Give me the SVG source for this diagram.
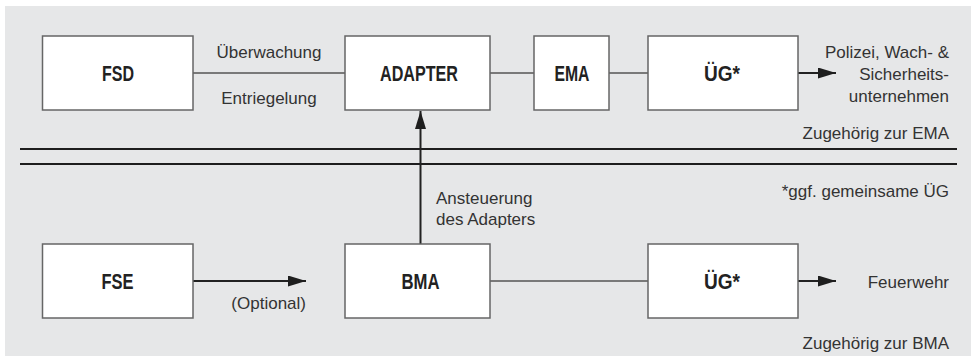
<svg xmlns="http://www.w3.org/2000/svg" width="978" height="356" viewBox="0 0 978 356">
  <style>
    .box { fill: #ffffff; stroke: #666666; stroke-width: 1.5; }
    .name { font-family: "Liberation Sans", Arial, sans-serif; font-weight: bold; font-size: 22px; fill: #222222; text-anchor: middle; }
    .lbl { font-family: "Liberation Sans", Arial, sans-serif; font-size: 17px; fill: #333333; }
    .end { text-anchor: end; }
    .mid { text-anchor: middle; }
    .thin { stroke: #555555; stroke-width: 1.5; fill: none; }
    .bold { stroke: #222222; stroke-width: 2; fill: none; }
    .sep { stroke: #1e1e1e; stroke-width: 2; fill: none; }
  </style>
  <defs>
    <marker id="head" viewBox="0 0 18 11" refX="18" refY="5.5" markerWidth="18" markerHeight="11" markerUnits="userSpaceOnUse" orient="auto">
      <path d="M0,0 L18,5.5 L0,11 Z" fill="#1e1e1e"/>
    </marker>
  </defs>

  <!-- panel background -->
  <rect x="5" y="6" width="966" height="350" fill="#e6e7e8"/>

  <!-- boundary lines between the EMA and BMA areas -->
  <g id="separator">
    <line class="sep" x1="20" y1="149" x2="957" y2="149"/>
    <line class="sep" x1="20" y1="164" x2="957" y2="164"/>
  </g>

  <g id="connectors">
    <line class="thin" x1="193" y1="73" x2="345" y2="73"/>
    <line class="thin" x1="490" y1="73" x2="534" y2="73"/>
    <line class="thin" x1="609" y1="73" x2="648" y2="73"/>
    <line class="bold" x1="798" y1="73" x2="836" y2="73" marker-end="url(#head)"/>
    <line class="bold" x1="420.5" y1="244" x2="420.5" y2="111" marker-end="url(#head)"/>
    <line class="bold" x1="193" y1="281" x2="306" y2="281" marker-end="url(#head)"/>
    <line class="thin" x1="490" y1="281" x2="648" y2="281"/>
    <line class="bold" x1="798" y1="281" x2="836" y2="281" marker-end="url(#head)"/>
  </g>

  <g id="fsd">
    <rect class="box" x="42.5" y="36" width="150.5" height="74"/>
    <text class="name" x="118" y="81" textLength="32" lengthAdjust="spacingAndGlyphs">FSD</text>
  </g>
  <g id="adapter">
    <rect class="box" x="345" y="36" width="145" height="74"/>
    <text class="name" x="419" y="81" textLength="78" lengthAdjust="spacingAndGlyphs">ADAPTER</text>
  </g>
  <g id="ema">
    <rect class="box" x="534" y="36" width="75" height="74"/>
    <text class="name" x="572" y="81" textLength="35" lengthAdjust="spacingAndGlyphs">EMA</text>
  </g>
  <g id="ueg-ema">
    <rect class="box" x="648" y="36" width="150" height="74"/>
    <text class="name" x="722" y="81" textLength="36" lengthAdjust="spacingAndGlyphs">ÜG*</text>
  </g>
  <g id="fse">
    <rect class="box" x="42.5" y="244" width="150.5" height="74"/>
    <text class="name" x="117.5" y="289" textLength="32" lengthAdjust="spacingAndGlyphs">FSE</text>
  </g>
  <g id="bma">
    <rect class="box" x="345" y="244" width="145" height="74"/>
    <text class="name" x="420.5" y="289" textLength="38" lengthAdjust="spacingAndGlyphs">BMA</text>
  </g>
  <g id="ueg-bma">
    <rect class="box" x="648" y="244" width="150" height="74"/>
    <text class="name" x="722" y="289" textLength="36" lengthAdjust="spacingAndGlyphs">ÜG*</text>
  </g>

  <g id="labels">
    <text class="lbl mid" x="269" y="58">Überwachung</text>
    <text class="lbl mid" x="269" y="104">Entriegelung</text>
    <text class="lbl end" x="949" y="58">Polizei, Wach- &amp;</text>
    <text class="lbl end" x="949" y="80">Sicherheits-</text>
    <text class="lbl end" x="949" y="102">unternehmen</text>
    <text class="lbl end" x="949" y="139">Zugehörig zur EMA</text>
    <text class="lbl end" x="949" y="197">*ggf. gemeinsame ÜG</text>
    <text class="lbl" x="436" y="204">Ansteuerung</text>
    <text class="lbl" x="436" y="225">des Adapters</text>
    <text class="lbl end" x="306" y="309">(Optional)</text>
    <text class="lbl end" x="949" y="288">Feuerwehr</text>
    <text class="lbl end" x="949" y="349">Zugehörig zur BMA</text>
  </g>
</svg>
